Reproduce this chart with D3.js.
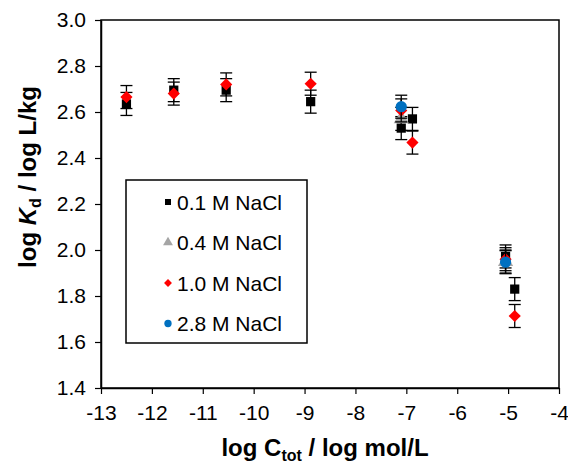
<!DOCTYPE html>
<html>
<head>
<meta charset="utf-8">
<script src="https://cdn.jsdelivr.net/npm/d3@7"></script>
<style>
  body { margin: 0; background: #fff; }
  svg { font-family: "Liberation Sans", Arial, sans-serif; }
</style>
</head>
<body>
<div id="container"></div>
<script>
/* CONSTANTS AND GLOBALS */
const width = 568,
  height = 463,
  margin = { top: 20, right: 9, bottom: 75, left: 101 }

// series names, in drawing order
const seriesNames = ["0.1 M NaCl", "0.4 M NaCl", "1.0 M NaCl", "2.8 M NaCl"]
const seriesColors = ["#000000", "#a5a5a5", "#ff0000", "#0070c0"]
const seriesShapes = ["square", "triangle", "diamond", "circle"]

// x = log C_tot, y = log Kd, error = +/- 0.05
const x01 = [-12.5, -11.57, -10.54, -8.88, -7.1, -6.88, -5.05, -4.87]
const y01 = [2.635, 2.695, 2.695, 2.645, 2.53, 2.57, 1.972, 1.83]
const x04 = [-7.1, -5.05]
const y04 = [2.57, 1.95]
const x10 = [-12.5, -11.57, -10.54, -8.88, -7.1, -6.88, -5.05, -4.87]
const y10 = [2.665, 2.68, 2.72, 2.723, 2.607, 2.467, 1.96, 1.713]
const x28 = [-7.1, -5.05]
const y28 = [2.623, 1.947]
const errorBar = 0.05

const xTicks = [-13, -12, -11, -10, -9, -8, -7, -6, -5, -4]
const yTicks = [1.4, 1.6, 1.8, 2.0, 2.2, 2.4, 2.6, 2.8, 3.0]

const seriesX = [x01, x04, x10, x28]
const seriesY = [y01, y04, y10, y28]

/* SCALES */
const xScale = d3.scaleLinear()
  .domain([-13, -4])
  .range([margin.left, width - margin.right])

const yScale = d3.scaleLinear()
  .domain([1.4, 3.0])
  .range([height - margin.bottom, margin.top])

/* SVG */
const svg = d3.select("#container")
  .append("svg")
  .attr("width", width)
  .attr("height", height)

// plot frame
svg.append("rect")
  .attr("x", xScale(-13))
  .attr("y", yScale(3.0))
  .attr("width", xScale(-4) - xScale(-13))
  .attr("height", yScale(1.4) - yScale(3.0))
  .attr("fill", "none")
  .attr("stroke", "#000")
  .attr("stroke-width", 1.5)

/* AXES */
const xAxis = d3.axisBottom(xScale)
  .tickValues(xTicks)
  .tickSize(6)
  .tickSizeOuter(0)
  .tickPadding(11)
  .tickFormat(d => String(d))

const xAxisGroup = svg.append("g")
  .attr("transform", `translate(0, ${yScale(1.4)})`)
  .call(xAxis)
xAxisGroup.select(".domain").attr("stroke-width", 1.5)
xAxisGroup.selectAll(".tick line").attr("stroke-width", 1.2)
xAxisGroup.selectAll("text")
  .style("font-size", "21px")
  .style("font-family", "Liberation Sans, Arial, sans-serif")
  .attr("fill", "#000")

const yAxis = d3.axisLeft(yScale)
  .tickValues(yTicks)
  .tickSize(6)
  .tickSizeOuter(0)
  .tickPadding(9)
  .tickFormat(d3.format(".1f"))

const yAxisGroup = svg.append("g")
  .attr("transform", `translate(${xScale(-13)}, 0)`)
  .call(yAxis)
yAxisGroup.select(".domain").attr("stroke-width", 1.5)
yAxisGroup.selectAll(".tick line").attr("stroke-width", 1.2)
yAxisGroup.selectAll("text")
  .style("font-size", "21px")
  .style("font-family", "Liberation Sans, Arial, sans-serif")
  .attr("fill", "#000")

/* MARKERS */
const symbolFor = (shape, big) => {
  const k = big ? 1 : 0.65
  if (shape === "square") return d3.symbol(d3.symbolSquare, 85 * k * k)()
  if (shape === "triangle") return d3.symbol(d3.symbolTriangle, 100 * k * k)()
  if (shape === "diamond") return d3.symbol(d3.symbolSquare, 74 * k * k)()
  return d3.symbol(d3.symbolCircle, 100 * k * k)()
}
const rotFor = shape => shape === "diamond" ? " rotate(45)" : ""

seriesNames.forEach((name, i) => {
  const pts = seriesX[i].map((x, j) => ({ x: x, y: seriesY[i][j] }))
  const g = svg.append("g").attr("class", "series")

  // error bars
  const eb = g.selectAll(".err")
    .data(pts)
    .join("g")
    .attr("class", "err")
    .attr("stroke", "#000")
    .attr("stroke-width", 1.3)
  eb.append("line")
    .attr("x1", d => xScale(d.x)).attr("x2", d => xScale(d.x))
    .attr("y1", d => yScale(d.y + errorBar)).attr("y2", d => yScale(d.y - errorBar))
  eb.append("line")
    .attr("x1", d => xScale(d.x) - 6).attr("x2", d => xScale(d.x) + 6)
    .attr("y1", d => yScale(d.y + errorBar)).attr("y2", d => yScale(d.y + errorBar))
  eb.append("line")
    .attr("x1", d => xScale(d.x) - 6).attr("x2", d => xScale(d.x) + 6)
    .attr("y1", d => yScale(d.y - errorBar)).attr("y2", d => yScale(d.y - errorBar))

  // markers
  g.selectAll(".pt")
    .data(pts)
    .join("path")
    .attr("class", "pt")
    .attr("d", symbolFor(seriesShapes[i], true))
    .attr("transform", d => `translate(${xScale(d.x)}, ${yScale(d.y)})${rotFor(seriesShapes[i])}`)
    .attr("fill", seriesColors[i])
})

/* LEGEND */
const legend = svg.append("g")
legend.append("rect")
  .attr("x", 126)
  .attr("y", 180)
  .attr("width", 181)
  .attr("height", 163)
  .attr("fill", "#fff")
  .attr("stroke", "#000")
  .attr("stroke-width", 1.5)

seriesNames.forEach((name, i) => {
  const yy = 202 + i * 40.5
  legend.append("path")
    .attr("d", symbolFor(seriesShapes[i], false))
    .attr("transform", `translate(168, ${yy})${rotFor(seriesShapes[i])}`)
    .attr("fill", seriesColors[i])
  legend.append("text")
    .attr("x", 177)
    .attr("y", yy)
    .attr("dy", "0.36em")
    .style("font-size", "21px")
    .text(name)
})

/* TITLES */
const xTitle = svg.append("text")
  .attr("x", 325)
  .attr("y", 456)
  .attr("text-anchor", "middle")
  .style("font-size", "24px")
  .style("font-weight", "bold")
xTitle.append("tspan").text("log C")
xTitle.append("tspan").attr("dy", 5).style("font-size", "16px").text("tot")
xTitle.append("tspan").attr("dy", -5).text(" / log mol/L")

const yTitle = svg.append("text")
  .attr("transform", `translate(36, 177) rotate(-90)`)
  .attr("text-anchor", "middle")
  .style("font-size", "24px")
  .style("font-weight", "bold")
yTitle.append("tspan").text("log ")
yTitle.append("tspan").style("font-style", "italic").text("K")
yTitle.append("tspan").attr("dy", 5).style("font-size", "16px").text("d")
yTitle.append("tspan").attr("dy", -5).text(" / log L/kg")
</script>
</body>
</html>
